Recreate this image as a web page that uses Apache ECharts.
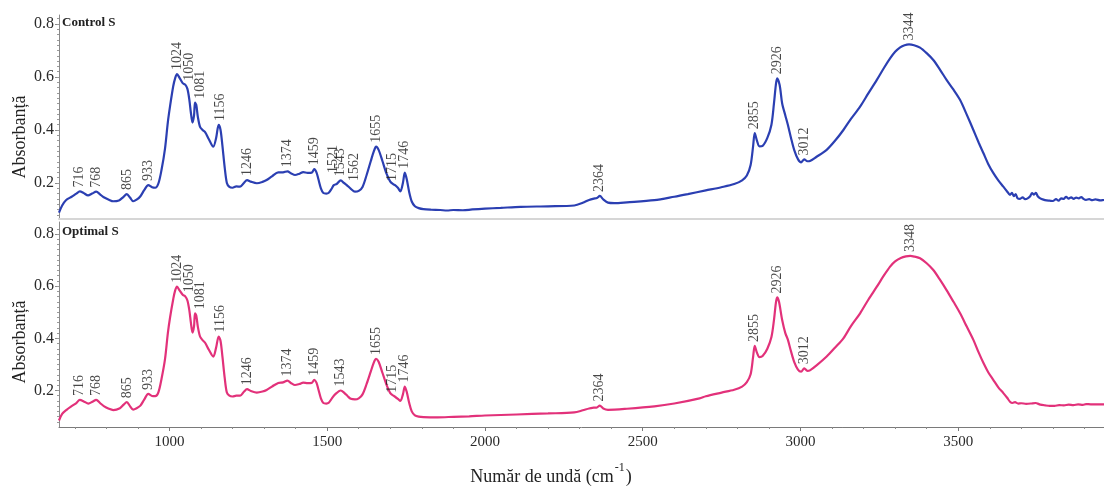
<!DOCTYPE html>
<html>
<head>
<meta charset="utf-8">
<script src="https://cdn.jsdelivr.net/npm/echarts@6/dist/echarts.min.js"></script>
<style>
  html, body { margin: 0; padding: 0; background: #ffffff; }
  #chart { width: 1104px; height: 486px; }
</style>
</head>
<body>
<div id="chart"></div>
<script>
// FTIR spectra: wavenumber (cm-1) and absorbance for the two samples
const wnControl = [650,660,672,690,705,716,728,742,755,768,780,792,808,822,840,852,865,875,885,896,908,920,933,945,955,965,975,986,995,1002,1012,1018,1024,1032,1042,1050,1057,1063,1068,1073,1078,1081,1085,1090,1097,1105,1113,1125,1139,1148,1156,1162,1168,1175,1182,1190,1200,1212,1224,1236,1246,1258,1277,1295,1308,1325,1345,1360,1374,1386,1398,1412,1424,1438,1451,1459,1466,1472,1480,1488,1497,1505,1515,1521,1530,1543,1553,1562,1575,1588,1600,1612,1625,1638,1648,1655,1663,1675,1688,1700,1710,1715,1724,1732,1740,1746,1752,1760,1768,1778,1790,1805,1830,1858,1880,1900,1930,1960,2000,2050,2113,2200,2283,2310,2330,2345,2355,2364,2375,2390,2410,2450,2537,2600,2643,2700,2749,2790,2815,2830,2842,2850,2855,2862,2870,2880,2895,2908,2916,2922,2926,2934,2942,2952,2960,2970,2980,2992,3002,3012,3022,3030,3050,3083,3110,3136,3160,3189,3215,3242,3264,3284,3300,3316,3330,3344,3360,3379,3400,3421,3442,3463,3485,3506,3527,3548,3565,3580,3595,3611,3627,3643,3655,3664,3670,3676,3682,3688,3696,3704,3712,3720,3728,3734,3740,3746,3752,3760,3770,3780,3790,3800,3810,3818,3826,3834,3842,3850,3858,3866,3874,3882,3890,3897,3905,3915,3925,3935,3950,3965,3980,4000];
const absControl = [0.088,0.115,0.135,0.148,0.160,0.168,0.162,0.153,0.160,0.167,0.157,0.146,0.137,0.131,0.134,0.145,0.158,0.145,0.131,0.137,0.150,0.173,0.192,0.184,0.182,0.198,0.250,0.330,0.430,0.490,0.565,0.595,0.611,0.597,0.577,0.571,0.555,0.515,0.465,0.428,0.455,0.503,0.495,0.450,0.412,0.400,0.392,0.365,0.337,0.370,0.419,0.400,0.340,0.260,0.200,0.185,0.182,0.187,0.186,0.200,0.211,0.205,0.199,0.204,0.211,0.225,0.240,0.240,0.244,0.236,0.230,0.235,0.241,0.238,0.239,0.252,0.240,0.215,0.180,0.162,0.160,0.163,0.180,0.192,0.196,0.210,0.200,0.192,0.178,0.167,0.170,0.185,0.230,0.282,0.320,0.337,0.325,0.283,0.235,0.205,0.195,0.192,0.182,0.168,0.200,0.239,0.215,0.165,0.130,0.112,0.105,0.101,0.099,0.098,0.096,0.098,0.097,0.100,0.103,0.106,0.110,0.112,0.115,0.125,0.136,0.141,0.143,0.151,0.138,0.126,0.124,0.127,0.135,0.148,0.158,0.172,0.184,0.196,0.210,0.228,0.268,0.340,0.388,0.360,0.338,0.340,0.370,0.420,0.500,0.570,0.595,0.570,0.500,0.455,0.420,0.370,0.325,0.290,0.278,0.289,0.282,0.283,0.298,0.325,0.360,0.400,0.442,0.488,0.538,0.589,0.633,0.670,0.695,0.712,0.720,0.723,0.720,0.711,0.690,0.664,0.628,0.589,0.552,0.513,0.458,0.400,0.352,0.312,0.272,0.238,0.210,0.186,0.168,0.155,0.163,0.150,0.158,0.142,0.140,0.146,0.139,0.142,0.150,0.162,0.156,0.163,0.150,0.142,0.137,0.134,0.133,0.132,0.139,0.133,0.142,0.140,0.148,0.141,0.146,0.140,0.145,0.142,0.147,0.140,0.136,0.139,0.135,0.138,0.134,0.136,0.135,0.135];

const wnOptimal = [650,660,674,690,705,716,730,743,756,768,780,792,808,822,843,855,865,875,885,896,908,920,933,945,955,965,975,986,995,1002,1012,1018,1024,1032,1042,1050,1057,1063,1068,1073,1078,1081,1085,1090,1097,1105,1113,1125,1139,1148,1156,1162,1168,1175,1182,1190,1200,1212,1224,1236,1246,1258,1277,1295,1308,1325,1345,1360,1374,1386,1398,1412,1424,1438,1451,1459,1466,1472,1480,1488,1497,1505,1515,1525,1543,1555,1565,1575,1588,1600,1612,1625,1638,1648,1655,1663,1675,1688,1700,1710,1715,1724,1732,1740,1746,1752,1760,1768,1778,1790,1805,1850,1900,1950,2000,2100,2200,2283,2310,2330,2345,2355,2364,2375,2390,2450,2537,2600,2680,2700,2750,2790,2815,2830,2842,2850,2855,2862,2870,2880,2895,2908,2916,2922,2926,2932,2942,2952,2960,2970,2980,2992,3002,3012,3022,3030,3050,3083,3110,3136,3160,3189,3215,3242,3264,3284,3300,3318,3334,3348,3362,3379,3400,3421,3442,3463,3485,3506,3527,3548,3565,3580,3595,3611,3627,3643,3655,3664,3672,3680,3690,3700,3715,3730,3745,3760,3775,3790,3805,3820,3835,3850,3865,3880,3895,3905,3920,3940,3960,3980,4000];
const absOptimal = [0.085,0.110,0.126,0.140,0.152,0.164,0.157,0.150,0.157,0.164,0.152,0.140,0.130,0.125,0.132,0.146,0.155,0.140,0.127,0.132,0.142,0.165,0.187,0.179,0.178,0.193,0.245,0.320,0.420,0.480,0.550,0.583,0.598,0.584,0.567,0.561,0.545,0.508,0.460,0.422,0.447,0.496,0.488,0.445,0.407,0.393,0.383,0.356,0.330,0.365,0.407,0.390,0.330,0.250,0.192,0.180,0.177,0.180,0.180,0.195,0.205,0.198,0.192,0.196,0.202,0.215,0.229,0.231,0.238,0.228,0.221,0.225,0.230,0.228,0.229,0.241,0.230,0.205,0.170,0.152,0.150,0.153,0.170,0.185,0.200,0.190,0.178,0.168,0.166,0.170,0.185,0.225,0.272,0.308,0.321,0.310,0.268,0.222,0.190,0.180,0.176,0.168,0.160,0.185,0.215,0.195,0.152,0.120,0.105,0.100,0.098,0.097,0.099,0.101,0.104,0.108,0.112,0.116,0.124,0.131,0.134,0.135,0.142,0.131,0.126,0.130,0.139,0.150,0.170,0.178,0.192,0.203,0.215,0.232,0.262,0.330,0.371,0.345,0.328,0.332,0.360,0.405,0.470,0.535,0.557,0.540,0.470,0.420,0.395,0.350,0.310,0.280,0.272,0.285,0.275,0.277,0.295,0.330,0.365,0.400,0.447,0.496,0.548,0.598,0.640,0.675,0.695,0.708,0.714,0.716,0.713,0.707,0.688,0.662,0.625,0.585,0.540,0.496,0.445,0.394,0.345,0.305,0.270,0.241,0.212,0.190,0.172,0.157,0.152,0.155,0.150,0.151,0.149,0.150,0.152,0.146,0.143,0.141,0.141,0.144,0.143,0.146,0.144,0.147,0.145,0.148,0.147,0.147,0.147,0.147,0.147];

// Annotated band positions (cm-1)
const peaksControl = [716,768,865,933,1024,1050,1081,1156,1246,1374,1459,1521,1543,1562,1655,1715,1746,2364,2855,2926,3012,3344];
const peaksOptimal = [716,768,865,933,1024,1050,1081,1156,1246,1374,1459,1543,1655,1715,1746,2364,2855,2926,3012,3348];

// Axis tick labels
const xTickLabels = [1000,1500,2000,2500,3000,3500];
const yTickLabels = [0.2,0.4,0.6,0.8];

const SERIF = '"Liberation Serif", "DejaVu Serif", serif';
const BLUE = '#2b3fb2';
const PINK = '#e2317a';
const X_MIN = 650, X_MAX = 3962;

// screen-space nudges (px, [right, down]) for crowded band labels
const LABEL_NUDGE = { 1050: [4, 0], 1081: [5, 0], 1156: [2, 0], 1521: [0, -8], 1562: [8, 0], 1715: [-3, 0] };

function pairs(xs, ys) { return xs.map((x, i) => [x, ys[i]]); }
function valueAt(wn, xs, ys) {
  for (let i = 1; i < xs.length; i++) {
    if (xs[i] >= wn) {
      const t = (wn - xs[i - 1]) / (xs[i] - xs[i - 1]);
      return ys[i - 1] + t * (ys[i] - ys[i - 1]);
    }
  }
  return ys[ys.length - 1];
}
function peakPoints(peaks, xs, ys) {
  return peaks.map(p => {
    const item = { value: [p, valueAt(p, xs, ys)], name: String(p) };
    const n = LABEL_NUDGE[p];
    // the label is rotated a quarter turn, so its local axes are swapped
    if (n) item.label = { offset: [-n[1], n[0]] };
    return item;
  });
}

const minorX = [];
for (let v = 700; v <= 3900; v += 100) if (v % 500 !== 0) minorX.push(v);
const minorY = [];
for (let i = 4; i <= 41; i++) minorY.push(+(i * 0.02).toFixed(2));

const GRIDS = [
  { left: 59, top: 15, right: 0, height: 204 },
  { left: 59, top: 222, right: 0, height: 205 }
];

function mainY(gridIndex, min, max) {
  return {
    type: 'value', gridIndex, min, max,
    axisLine: { show: true, lineStyle: { color: '#8a8a8a', width: 1 } },
    axisTick: { show: true, customValues: yTickLabels, length: 4, lineStyle: { color: '#8a8a8a' } },
    axisLabel: {
      customValues: yTickLabels, margin: 5,
      formatter: v => v.toFixed(1),
      fontFamily: SERIF, fontSize: 16, color: '#2a2a2a'
    },
    splitLine: { show: false }
  };
}
function minorYAxis(gridIndex, min, max) {
  return {
    type: 'value', gridIndex, min, max, position: 'left',
    axisLine: { show: false },
    axisTick: { show: true, customValues: minorY, length: 2, lineStyle: { color: '#9a9a9a' } },
    axisLabel: { show: false },
    splitLine: { show: false }
  };
}

function peakSeries(peaks, xs, ys, xi, yi) {
  return {
    type: 'scatter', xAxisIndex: xi, yAxisIndex: yi,
    symbolSize: 0, silent: true, z: 5,
    data: peakPoints(peaks, xs, ys),
    label: {
      show: true, position: 'top', distance: 4, rotate: 90,
      align: 'left', verticalAlign: 'middle',
      formatter: p => p.name,
      fontFamily: SERIF, fontSize: 14, color: '#1a1a1a'
    }
  };
}

const chart = echarts.init(document.getElementById('chart'), null, { renderer: 'canvas' });
chart.setOption({
  animation: false,
  backgroundColor: '#ffffff',
  grid: GRIDS,
  xAxis: [
    {
      type: 'value', gridIndex: 0, min: X_MIN, max: X_MAX,
      axisLine: { show: true, onZero: false, lineStyle: { color: '#d6d6d6', width: 2 } },
      axisTick: { show: false }, axisLabel: { show: false }, splitLine: { show: false }
    },
    {
      type: 'value', gridIndex: 1, min: X_MIN, max: X_MAX, position: 'bottom',
      axisLine: { show: true, onZero: false, lineStyle: { color: '#7a7a7a', width: 1 } },
      axisTick: { show: true, customValues: xTickLabels, length: 4, lineStyle: { color: '#7a7a7a' } },
      axisLabel: {
        customValues: xTickLabels, margin: 8, formatter: v => String(v),
        fontFamily: SERIF, fontSize: 15, color: '#2a2a2a'
      },
      splitLine: { show: false }
    },
    {
      type: 'value', gridIndex: 1, min: X_MIN, max: X_MAX, position: 'bottom',
      axisLine: { show: false, onZero: false },
      axisTick: { show: true, customValues: minorX, length: 2, lineStyle: { color: '#8a8a8a' } },
      axisLabel: { show: false }, splitLine: { show: false }
    }
  ],
  yAxis: [
    mainY(0, 0.064, 0.834),
    minorYAxis(0, 0.064, 0.834),
    mainY(1, 0.06, 0.846),
    minorYAxis(1, 0.06, 0.846)
  ],
  series: [
    {
      name: 'Control S', type: 'line', xAxisIndex: 0, yAxisIndex: 0,
      data: pairs(wnControl, absControl), showSymbol: false, smooth: 0.3,
      lineStyle: { color: BLUE, width: 2.2 }, z: 3
    },
    {
      name: 'Optimal S', type: 'line', xAxisIndex: 1, yAxisIndex: 2,
      data: pairs(wnOptimal, absOptimal), showSymbol: false, smooth: 0.3,
      lineStyle: { color: PINK, width: 2.2 }, z: 3
    },
    peakSeries(peaksControl, wnControl, absControl, 0, 0),
    peakSeries(peaksOptimal, wnOptimal, absOptimal, 1, 2)
  ],
  graphic: [
    { type: 'text', left: 62, top: 16, style: { text: 'Control S', font: 'bold 13px ' + SERIF, fill: '#222' } },
    { type: 'text', left: 62, top: 225, style: { text: 'Optimal S', font: 'bold 13px ' + SERIF, fill: '#222' } },
    { type: 'text', x: 20, y: 137, rotation: Math.PI / 2,
      style: { text: 'Absorbanță', font: '18px ' + SERIF, fill: '#222', align: 'center', verticalAlign: 'middle' } },
    { type: 'text', x: 20, y: 342, rotation: Math.PI / 2,
      style: { text: 'Absorbanță', font: '18px ' + SERIF, fill: '#222', align: 'center', verticalAlign: 'middle' } },
    { type: 'text', x: 551, y: 474,
      style: {
        text: '{a|Număr de undă (cm}{b|-1}{a|)}',
        align: 'center', verticalAlign: 'middle',
        rich: {
          a: { fontFamily: SERIF, fontSize: 18, fill: '#222', color: '#222', lineHeight: 24, verticalAlign: 'bottom' },
          b: { fontFamily: SERIF, fontSize: 12, fill: '#222', color: '#222', lineHeight: 24, verticalAlign: 'top', padding: [0, 1, 0, 1] }
        }
      }
    }
  ]
});
</script>
</body>
</html>
